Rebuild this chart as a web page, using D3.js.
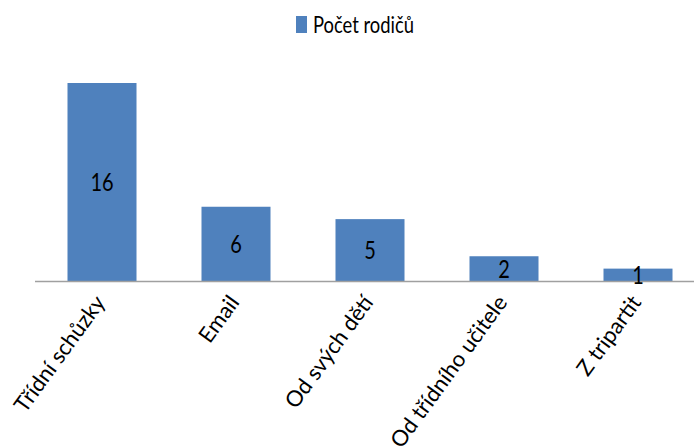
<!DOCTYPE html>
<html>
<head>
<meta charset="utf-8">
<script src="https://cdn.jsdelivr.net/npm/d3@7"></script>
<style>
  body { margin: 0; background: #fff; }
  text { font-family: "Lato", "Open Sans", sans-serif; fill: #000; }
</style>
</head>
<body>
<svg width="694" height="447"></svg>
<script>
const categories = ["Třídní schůzky", "Email", "Od svých dětí", "Od třídního učitele", "Z tripartit"];
const values = [16, 6, 5, 2, 1];
const seriesName = "Počet rodičů";

const svg = d3.select("svg");
const color = "#4f81bd";
// text in the picture looks squeezed sideways
const squeeze = 0.8;

// plot area
const plotLeft = 35, plotRight = 705, plotTop = 83, plotBottom = 281;

const x = d3.scaleBand()
    .domain(categories)
    .range([plotLeft, plotRight])
    .paddingInner(0.485)
    .paddingOuter(0.2425);

const y = d3.scaleLinear()
    .domain([0, 16])
    .range([plotBottom, plotTop]);

// bars
svg.selectAll("rect.bar")
    .data(values)
    .enter()
    .append("rect")
    .attr("class", "bar")
    .attr("x", (d, i) => x(categories[i]))
    .attr("y", d => y(d))
    .attr("width", x.bandwidth())
    .attr("height", d => plotBottom - y(d))
    .attr("fill", color);

// axis line
svg.append("line")
    .attr("x1", plotLeft).attr("x2", 694)
    .attr("y1", plotBottom + 0.5).attr("y2", plotBottom + 0.5)
    .attr("stroke", "#a0a0a0")
    .attr("stroke-width", 1.5);

// value labels in the middle of bars
svg.selectAll("text.val")
    .data(values)
    .enter()
    .append("text")
    .attr("class", "val")
    .attr("transform", (d, i) => `translate(${x(categories[i]) + x.bandwidth() / 2},${(y(d) + plotBottom) / 2}) scale(${squeeze},1)`)
    .attr("text-anchor", "middle")
    .attr("dy", "0.36em")
    .style("font-size", "25px")
    .text(d => d);

// category labels rotated
svg.selectAll("text.cat")
    .data(categories)
    .enter()
    .append("text")
    .attr("class", "cat")
    .attr("transform", d => `translate(${x(d) + x.bandwidth() / 2 - 2},${plotBottom + 17}) rotate(-54)`)
    .attr("text-anchor", "end")
    .attr("dy", "0.35em")
    .style("font-size", "22px")
    .text(d => d);

// legend
const legend = svg.append("g").attr("transform", "translate(296,16)");
legend.append("rect")
    .attr("width", 11).attr("height", 17)
    .attr("fill", color);
legend.append("text")
    .attr("transform", `translate(17,17) scale(${squeeze},1)`)
    .style("font-size", "23px")
    .text(seriesName);
</script>
</body>
</html>
